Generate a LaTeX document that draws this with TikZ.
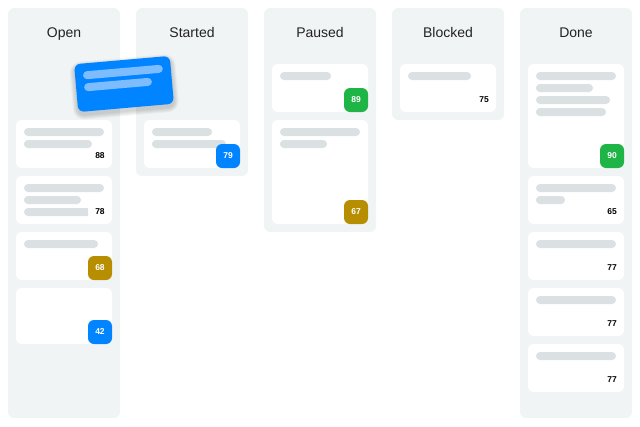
\documentclass[tikz,border=0pt]{standalone}
\usepackage{fontspec}
\setmainfont{Liberation Sans}

\definecolor{colbg}{RGB}{241,244,245}
\definecolor{barcol}{RGB}{219,224,227}
\definecolor{kblue}{RGB}{0,132,255}
\definecolor{kgreen}{RGB}{30,180,70}
\definecolor{kolive}{RGB}{182,142,0}
\definecolor{klight}{RGB}{125,189,255}
\definecolor{ktext}{RGB}{34,34,34}

\tikzset{
	column/.style={fill=colbg, rounded corners=6pt},
	card/.style={fill=white, rounded corners=6pt},
	skelbar/.style={fill=barcol, rounded corners=4pt},
	title/.style={font=\fontsize{14}{16}\selectfont, text=ktext, anchor=base},
	score/.style={font=\fontsize{8.5}{10}\selectfont\bfseries, text=black, inner sep=0pt},
	badge/.style={score, text=white, minimum size=24pt, rounded corners=6pt},
}

\begin{document}
\begin{tikzpicture}[x=1pt, y=-1pt]
	\useasboundingbox (0,0) rectangle (640,426);

	% columns
	\begin{scope}
		\fill[column] (8,8) rectangle (120,418);
		\fill[column] (136,8) rectangle (248,176);
		\fill[column] (264,8) rectangle (376,232);
		\fill[column] (392,8) rectangle (504,120);
		\fill[column] (520,8) rectangle (632,418);

		\node[title] (open) at (64,37) {Open};
		\node[title] (started) at (192,37) {Started};
		\node[title] (paused) at (320,37) {Paused};
		\node[title] (blocked) at (448,37) {Blocked};
		\node[title] (done) at (576,37) {Done};
	\end{scope}

	% open
	\begin{scope}
		\fill[card] (16,120) rectangle (112,168);
		\fill[skelbar] (24,128) rectangle (104,136);
		\fill[skelbar] (24,140) rectangle (92,148);
		\node[score] (s88) at (100,156) {88};

		\fill[card] (16,176) rectangle (112,224);
		\fill[skelbar] (24,184) rectangle (104,192);
		\fill[skelbar] (24,196) rectangle (81,204);
		\fill[barcol] (88,208) -- (28,208) arc[start angle=270, end angle=90, radius=4] -- (88,216) -- cycle;
		\node[score] (s78) at (100,212) {78};

		\fill[card] (16,232) rectangle (112,280);
		\fill[skelbar] (24,240) rectangle (98,248);
		\node[badge, fill=kolive] (s68) at (100,268) {68};

		\fill[card] (16,288) rectangle (112,344);
		\node[badge, fill=kblue] (s42) at (100,332) {42};
	\end{scope}

	% started
	\begin{scope}
		\fill[card] (144,120) rectangle (240,168);
		\fill[skelbar] (152,128) rectangle (212,136);
		\fill[skelbar] (152,140) rectangle (226,148);
		\node[badge, fill=kblue] (s79) at (228,156) {79};
	\end{scope}

	% paused
	\begin{scope}
		\fill[card] (272,64) rectangle (368,112);
		\fill[skelbar] (280,72) rectangle (331,80);
		\node[badge, fill=kgreen] (s89) at (356,100) {89};

		\fill[card] (272,120) rectangle (368,224);
		\fill[skelbar] (280,128) rectangle (360,136);
		\fill[skelbar] (280,140) rectangle (327,148);
		\node[badge, fill=kolive] (s67) at (356,212) {67};
	\end{scope}

	% blocked
	\begin{scope}
		\fill[card] (400,64) rectangle (496,112);
		\fill[skelbar] (408,72) rectangle (471,80);
		\node[score] (s75) at (484,100) {75};
	\end{scope}

	% done
	\begin{scope}
		\fill[card] (528,64) rectangle (624,168);
		\foreach \y/\w in {72/616, 84/593, 96/610, 108/606}
		{
			\fill[skelbar] (536,\y) rectangle (\w,\y+8);
		}
		\node[badge, fill=kgreen] (s90) at (612,156) {90};

		\fill[card] (528,176) rectangle (624,224);
		\fill[skelbar] (536,184) rectangle (616,192);
		\fill[skelbar] (536,196) rectangle (565,204);
		\node[score] (s65) at (612,212) {65};

		\foreach \y in {232, 288, 344}
		{
			\fill[card] (528,\y) rectangle (624,\y+48);
			\fill[skelbar] (536,\y+8) rectangle (616,\y+16);
			\node[score] (s77-\y) at (612,\y+36) {77};
		}
	\end{scope}

	% card being dragged
	\begin{scope}[shift={(124,84)}, rotate=5]
		\foreach \r in {1,...,5}
		{
			\fill[black, opacity=0.035, rounded corners=6pt+\r pt] (-48-\r,-24-\r+3) rectangle (48+\r,24+\r+3);
		}
		\fill[kblue, rounded corners=6pt] (-48,-24) rectangle (48,24);
		\fill[klight, rounded corners=4pt] (-40,-16) rectangle (40,-8);
		\fill[klight, rounded corners=4pt] (-40,-4) rectangle (28,4);
	\end{scope}
\end{tikzpicture}
\end{document}
